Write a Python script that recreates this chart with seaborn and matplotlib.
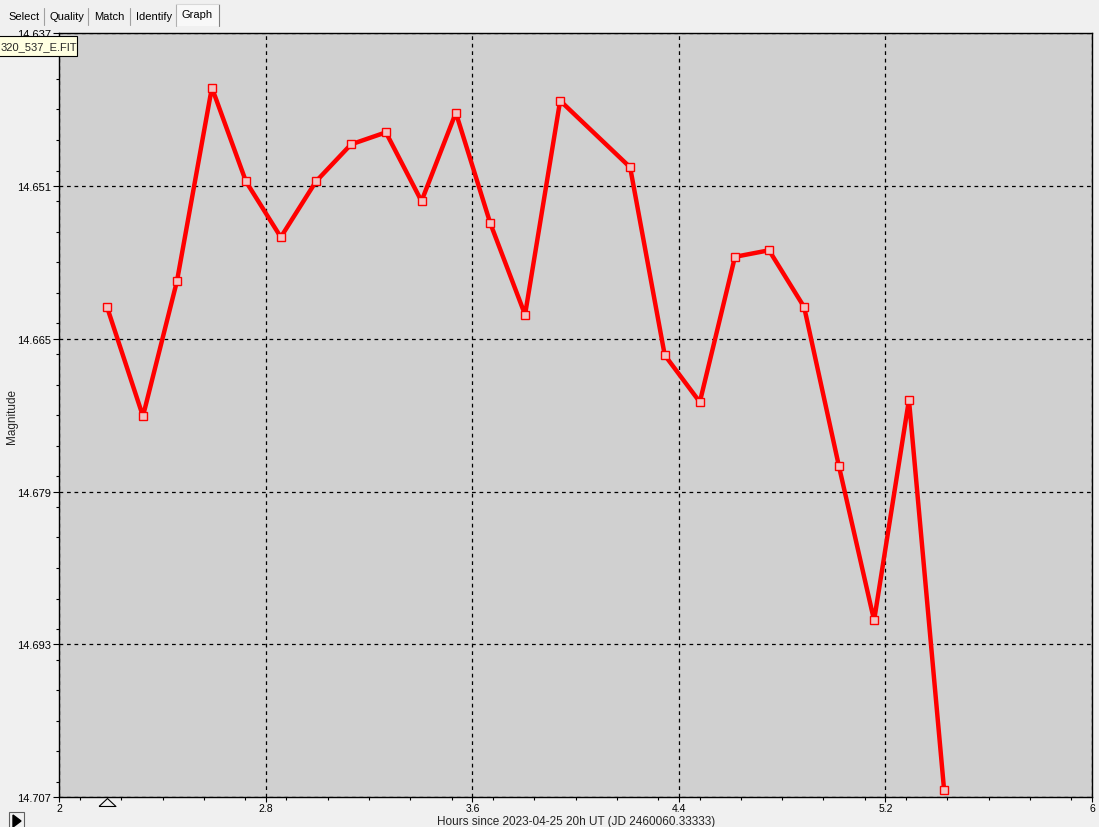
import matplotlib
matplotlib.use("Agg")
import matplotlib.pyplot as plt
from matplotlib.patches import Rectangle, Polygon
from matplotlib.ticker import FixedLocator, MultipleLocator
import seaborn as sns
import numpy as np
import pandas as pd

# ---- data ----
hours = [2.185, 2.324, 2.456, 2.591, 2.723, 2.858, 2.994, 3.130, 3.265, 3.403,
         3.536, 3.669, 3.804, 3.940, 4.211, 4.345, 4.481, 4.617, 4.749, 4.885,
         5.020, 5.156, 5.291, 5.427]
magnitude = [14.6621, 14.6721, 14.6597, 14.6420, 14.6506, 14.6557, 14.6506, 14.6472,
             14.6461, 14.6524, 14.6443, 14.6544, 14.6628, 14.6432, 14.6493, 14.6665,
             14.6708, 14.6575, 14.6569, 14.6621, 14.6767, 14.6908, 14.6706, 14.7063]
x_ticks = [2, 2.8, 3.6, 4.4, 5.2, 6]
x_tick_labels = ["2", "2.8", "3.6", "4.4", "5.2", "6"]
y_ticks = [14.637, 14.651, 14.665, 14.679, 14.693, 14.707]
y_tick_labels = ["14.637", "14.651", "14.665", "14.679", "14.693", "14.707"]
tab_names = ["Select", "Quality", "Match", "Identify", "Graph"]
file_label = "320_537_E.FIT"
x_label = "Hours since 2023-04-25 20h UT (JD 2460060.33333)"
y_label = "Magnitude"

df = pd.DataFrame({"hours": hours, "mag": magnitude})

sns.set_theme(style="ticks")
plt.rcParams["font.family"] = ["Liberation Sans", "DejaVu Sans"]
plt.rcParams["font.size"] = 8

W, H = 1099, 828
fig = plt.figure(figsize=(W / 100, H / 100), dpi=100, facecolor="#F0F0F0")

def fx(px):
    return px / W

def fy(py):
    return 1 - py / H

left, right, top, bottom = 59.3, 1092.0, 34.0, 798.3
ax = fig.add_axes([fx(left), fy(bottom), (right - left) / W, (bottom - top) / H])
ax.set_facecolor("#D0D0D0")

sns.lineplot(data=df, x="hours", y="mag", ax=ax, sort=False, color="#FF0000",
             linewidth=3.2, marker="s", markersize=5.5, markerfacecolor="#F2C4C4",
             markeredgecolor="#FF0000", markeredgewidth=1.0, zorder=3)

ax.set_xlim(2, 6)
ax.set_ylim(14.707, 14.637)
ax.xaxis.set_major_locator(FixedLocator(x_ticks))
ax.set_xticklabels(x_tick_labels)
ax.xaxis.set_minor_locator(MultipleLocator(0.16))
ax.yaxis.set_major_locator(FixedLocator(y_ticks))
ax.set_yticklabels(y_tick_labels)
ax.yaxis.set_minor_locator(MultipleLocator(0.0028))

ax.tick_params(axis="y", which="major", direction="out", length=4.5, width=0.8,
               color="black", labelsize=8, labelcolor="#000000", pad=1.5)
ax.tick_params(axis="x", which="major", direction="out", length=3.6, width=0.8,
               color="black", labelsize=7.5, labelcolor="#000000", pad=0.5)
ax.tick_params(axis="both", which="minor", direction="out", length=2.5, width=0.8,
               color="black")

ax.grid(True, which="major", color="black", linestyle=(0, (3, 3)), linewidth=0.9)
for s in ax.spines.values():
    s.set_visible(True)
    s.set_color("black")
    s.set_linewidth(1.0)

ax.set_xlabel(x_label, fontsize=8.5)
ax.xaxis.set_label_coords(0.5, -0.0235)
ax.set_ylabel(y_label, fontsize=8.5)
ax.yaxis.set_label_coords(-0.040, 0.5)

# open triangle marker below the axis at the first data point
ax.plot([hours[0]], [-0.0062], transform=ax.get_xaxis_transform(), clip_on=False,
        marker=[(-1, -0.47), (1, -0.47), (0, 0.47), (-1, -0.47)], markersize=12.2,
        markerfacecolor="none", markeredgecolor="black", markeredgewidth=0.8,
        linestyle="none", zorder=5)

# ---- UI chrome: tabs ----
tab_x = [8, 50, 94, 136, 182]
sep_x = [44, 88, 130]
for name, tx in zip(tab_names, tab_x):
    ty = 15.5 if name == "Graph" else 17.5
    fig.text(fx(tx), fy(ty), name, fontsize=8, ha="left", va="center", color="black")
for sx in sep_x:
    fig.add_artist(plt.Line2D([fx(sx), fx(sx)], [fy(9), fy(26)], color="#A0A0A0", lw=0.8))
fig.add_artist(Rectangle((fx(176), fy(27)), fx(43), 22 / H, transform=fig.transFigure,
                         facecolor="#F8F8F8", edgecolor="none", zorder=0))
fig.add_artist(plt.Line2D([fx(176), fx(176)], [fy(5), fy(27)], color="#B0B0B0", lw=0.8))
fig.add_artist(plt.Line2D([fx(219), fx(219)], [fy(5), fy(27)], color="#808080", lw=0.8))
fig.add_artist(plt.Line2D([fx(176), fx(219)], [fy(5), fy(5)], color="#D8D8D8", lw=0.8))

# file label tooltip box
fig.add_artist(Rectangle((fx(-2), fy(57)), fx(79), 20 / H, transform=fig.transFigure,
                         facecolor="#FFFFE1", edgecolor="black", lw=0.8, zorder=10))
fig.text(fx(1), fy(47), file_label, fontsize=8, ha="left", va="center", zorder=11)

# play button at bottom-left
fig.add_artist(Rectangle((fx(9), fy(829)), fx(15), 16 / H, transform=fig.transFigure,
                         facecolor="#F0F0F0", edgecolor="#606060", lw=0.8, zorder=10))
fig.add_artist(Polygon([(fx(13), fy(816)), (fx(13), fy(828)), (fx(21), fy(822))],
                       closed=True, transform=fig.transFigure, facecolor="black",
                       edgecolor="black", zorder=11))

fig.savefig("out.png", dpi=100, facecolor=fig.get_facecolor())
